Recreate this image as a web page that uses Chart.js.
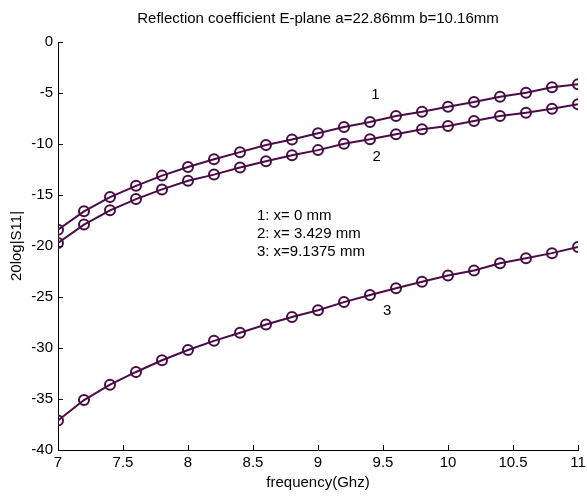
<!DOCTYPE html>
<html>
<head>
<meta charset="utf-8">
<script src="https://cdn.jsdelivr.net/npm/chart.js@4.4.1/dist/chart.umd.min.js"></script>
<style>
  html, body { margin: 0; padding: 0; background: #fff; }
  #wrap { width: 587px; height: 496px; }
</style>
</head>
<body>
<div id="wrap"><canvas id="grafico"></canvas></div>
<script>
// frequency (GHz)
const frequencias = [7, 7.2, 7.4, 7.6, 7.8, 8, 8.2, 8.4, 8.6, 8.8, 9, 9.2, 9.4, 9.6, 9.8, 10, 10.2, 10.4, 10.6, 10.8, 11];
// 20log|S11| for x = 0 mm, 3.429 mm, 9.1375 mm
const curva_1 = [-18.4, -16.6, -15.2, -14.1, -13.1, -12.25, -11.5, -10.8, -10.1, -9.55, -8.95, -8.33, -7.84, -7.25, -6.83, -6.34, -5.88, -5.36, -4.97, -4.44, -4.15];
const curva_2 = [-19.7, -17.9, -16.5, -15.4, -14.45, -13.6, -13.0, -12.3, -11.7, -11.1, -10.6, -9.97, -9.54, -9.05, -8.56, -8.24, -7.75, -7.25, -6.93, -6.54, -6.11];
const curva_3 = [-37.1, -35.1, -33.6, -32.35, -31.2, -30.2, -29.3, -28.5, -27.7, -26.96, -26.3, -25.5, -24.8, -24.15, -23.5, -22.9, -22.4, -21.7, -21.2, -20.7, -20.1];

const titulo = 'Reflection coefficient E-plane a=22.86mm b=10.16mm';
const legenda = ['1: x= 0 mm', '2: x= 3.429 mm', '3: x=9.1375 mm'];
// label positions in data units
const rotulos = [
    { texto: '1', x: 9.41, y: -5.2 },
    { texto: '2', x: 9.42, y: -11.27 },
    { texto: '3', x: 9.5, y: -26.4 },
];
const legenda_pos = { x: 8.53, y: [-17.06, -18.85, -20.6] };

const cor = '#4a0c47';
const fonte = '"Liberation Sans", Arial, sans-serif';
const tam = 15;

const pontos = (ys) => frequencias.map((f, i) => ({ x: f, y: ys[i] }));

const serie = (ys) => ({
    data: pontos(ys),
    borderColor: cor,
    borderWidth: 2,
    pointStyle: 'circle',
    pointRadius: 5,
    pointBorderWidth: 2,
    pointBackgroundColor: 'rgba(0,0,0,0)',
    pointBorderColor: cor,
    tension: 0,
    fill: false,
});

// MATLAB-like inward ticks, title over the axes, text labels
const extras = {
    id: 'extras',
    afterDraw(chart) {
        const ctx = chart.ctx;
        const sx = chart.scales.x, sy = chart.scales.y;
        const area = chart.chartArea;
        ctx.save();
        ctx.strokeStyle = '#000';
        ctx.lineWidth = 1;
        ctx.beginPath();
        sx.ticks.forEach(t => {
            const px = Math.round(sx.getPixelForValue(t.value)) + 0.5;
            ctx.moveTo(px, area.bottom);
            ctx.lineTo(px, area.bottom - 5);
        });
        sy.ticks.forEach(t => {
            const py = Math.round(sy.getPixelForValue(t.value)) + 0.5;
            ctx.moveTo(area.left, py);
            ctx.lineTo(area.left + 5, py);
        });
        ctx.stroke();

        ctx.fillStyle = '#000';
        ctx.font = tam + 'px ' + fonte;
        ctx.textBaseline = 'middle';
        ctx.textAlign = 'center';
        ctx.fillText(titulo, (area.left + area.right) / 2, 19);

        ctx.textAlign = 'left';
        rotulos.forEach(r => {
            ctx.fillText(r.texto, sx.getPixelForValue(r.x), sy.getPixelForValue(r.y));
        });
        legenda.forEach((txt, i) => {
            ctx.fillText(txt, sx.getPixelForValue(legenda_pos.x), sy.getPixelForValue(legenda_pos.y[i]));
        });
        ctx.restore();
    }
};

new Chart(document.getElementById('grafico'), {
    type: 'line',
    data: {
        datasets: [serie(curva_1), serie(curva_2), serie(curva_3)]
    },
    options: {
        responsive: true,
        maintainAspectRatio: false,
        animation: false,
        layout: { padding: { left: 0, right: 0, top: 42, bottom: 0 } },
        plugins: {
            legend: { display: false },
            tooltip: { enabled: false },
            title: { display: false }
        },
        scales: {
            x: {
                type: 'linear',
                min: 7,
                max: 11,
                afterFit: (s) => { s.height = 46; s.paddingRight = 9; },
                ticks: {
                    stepSize: 0.5,
                    color: '#000',
                    font: { family: fonte, size: tam },
                    padding: 4,
                    maxRotation: 0,
                    callback: (v) => String(v)
                },
                grid: { drawOnChartArea: false, drawTicks: false },
                border: { color: '#000', width: 1 },
                title: {
                    display: true,
                    text: 'frequency(Ghz)',
                    color: '#000',
                    font: { family: fonte, size: tam },
                    padding: { top: 0, bottom: 4 }
                }
            },
            y: {
                min: -40,
                max: 0,
                afterFit: (s) => { s.width = 58; },
                ticks: {
                    stepSize: 5,
                    color: '#000',
                    font: { family: fonte, size: tam },
                    padding: 5,
                    callback: (v) => String(v)
                },
                grid: { drawOnChartArea: false, drawTicks: false },
                border: { color: '#000', width: 1 },
                title: {
                    display: true,
                    text: '20log|S11|',
                    color: '#000',
                    font: { family: fonte, size: tam },
                    padding: { top: 8, bottom: 0 }
                }
            }
        }
    },
    plugins: [extras]
});
</script>
</body>
</html>
